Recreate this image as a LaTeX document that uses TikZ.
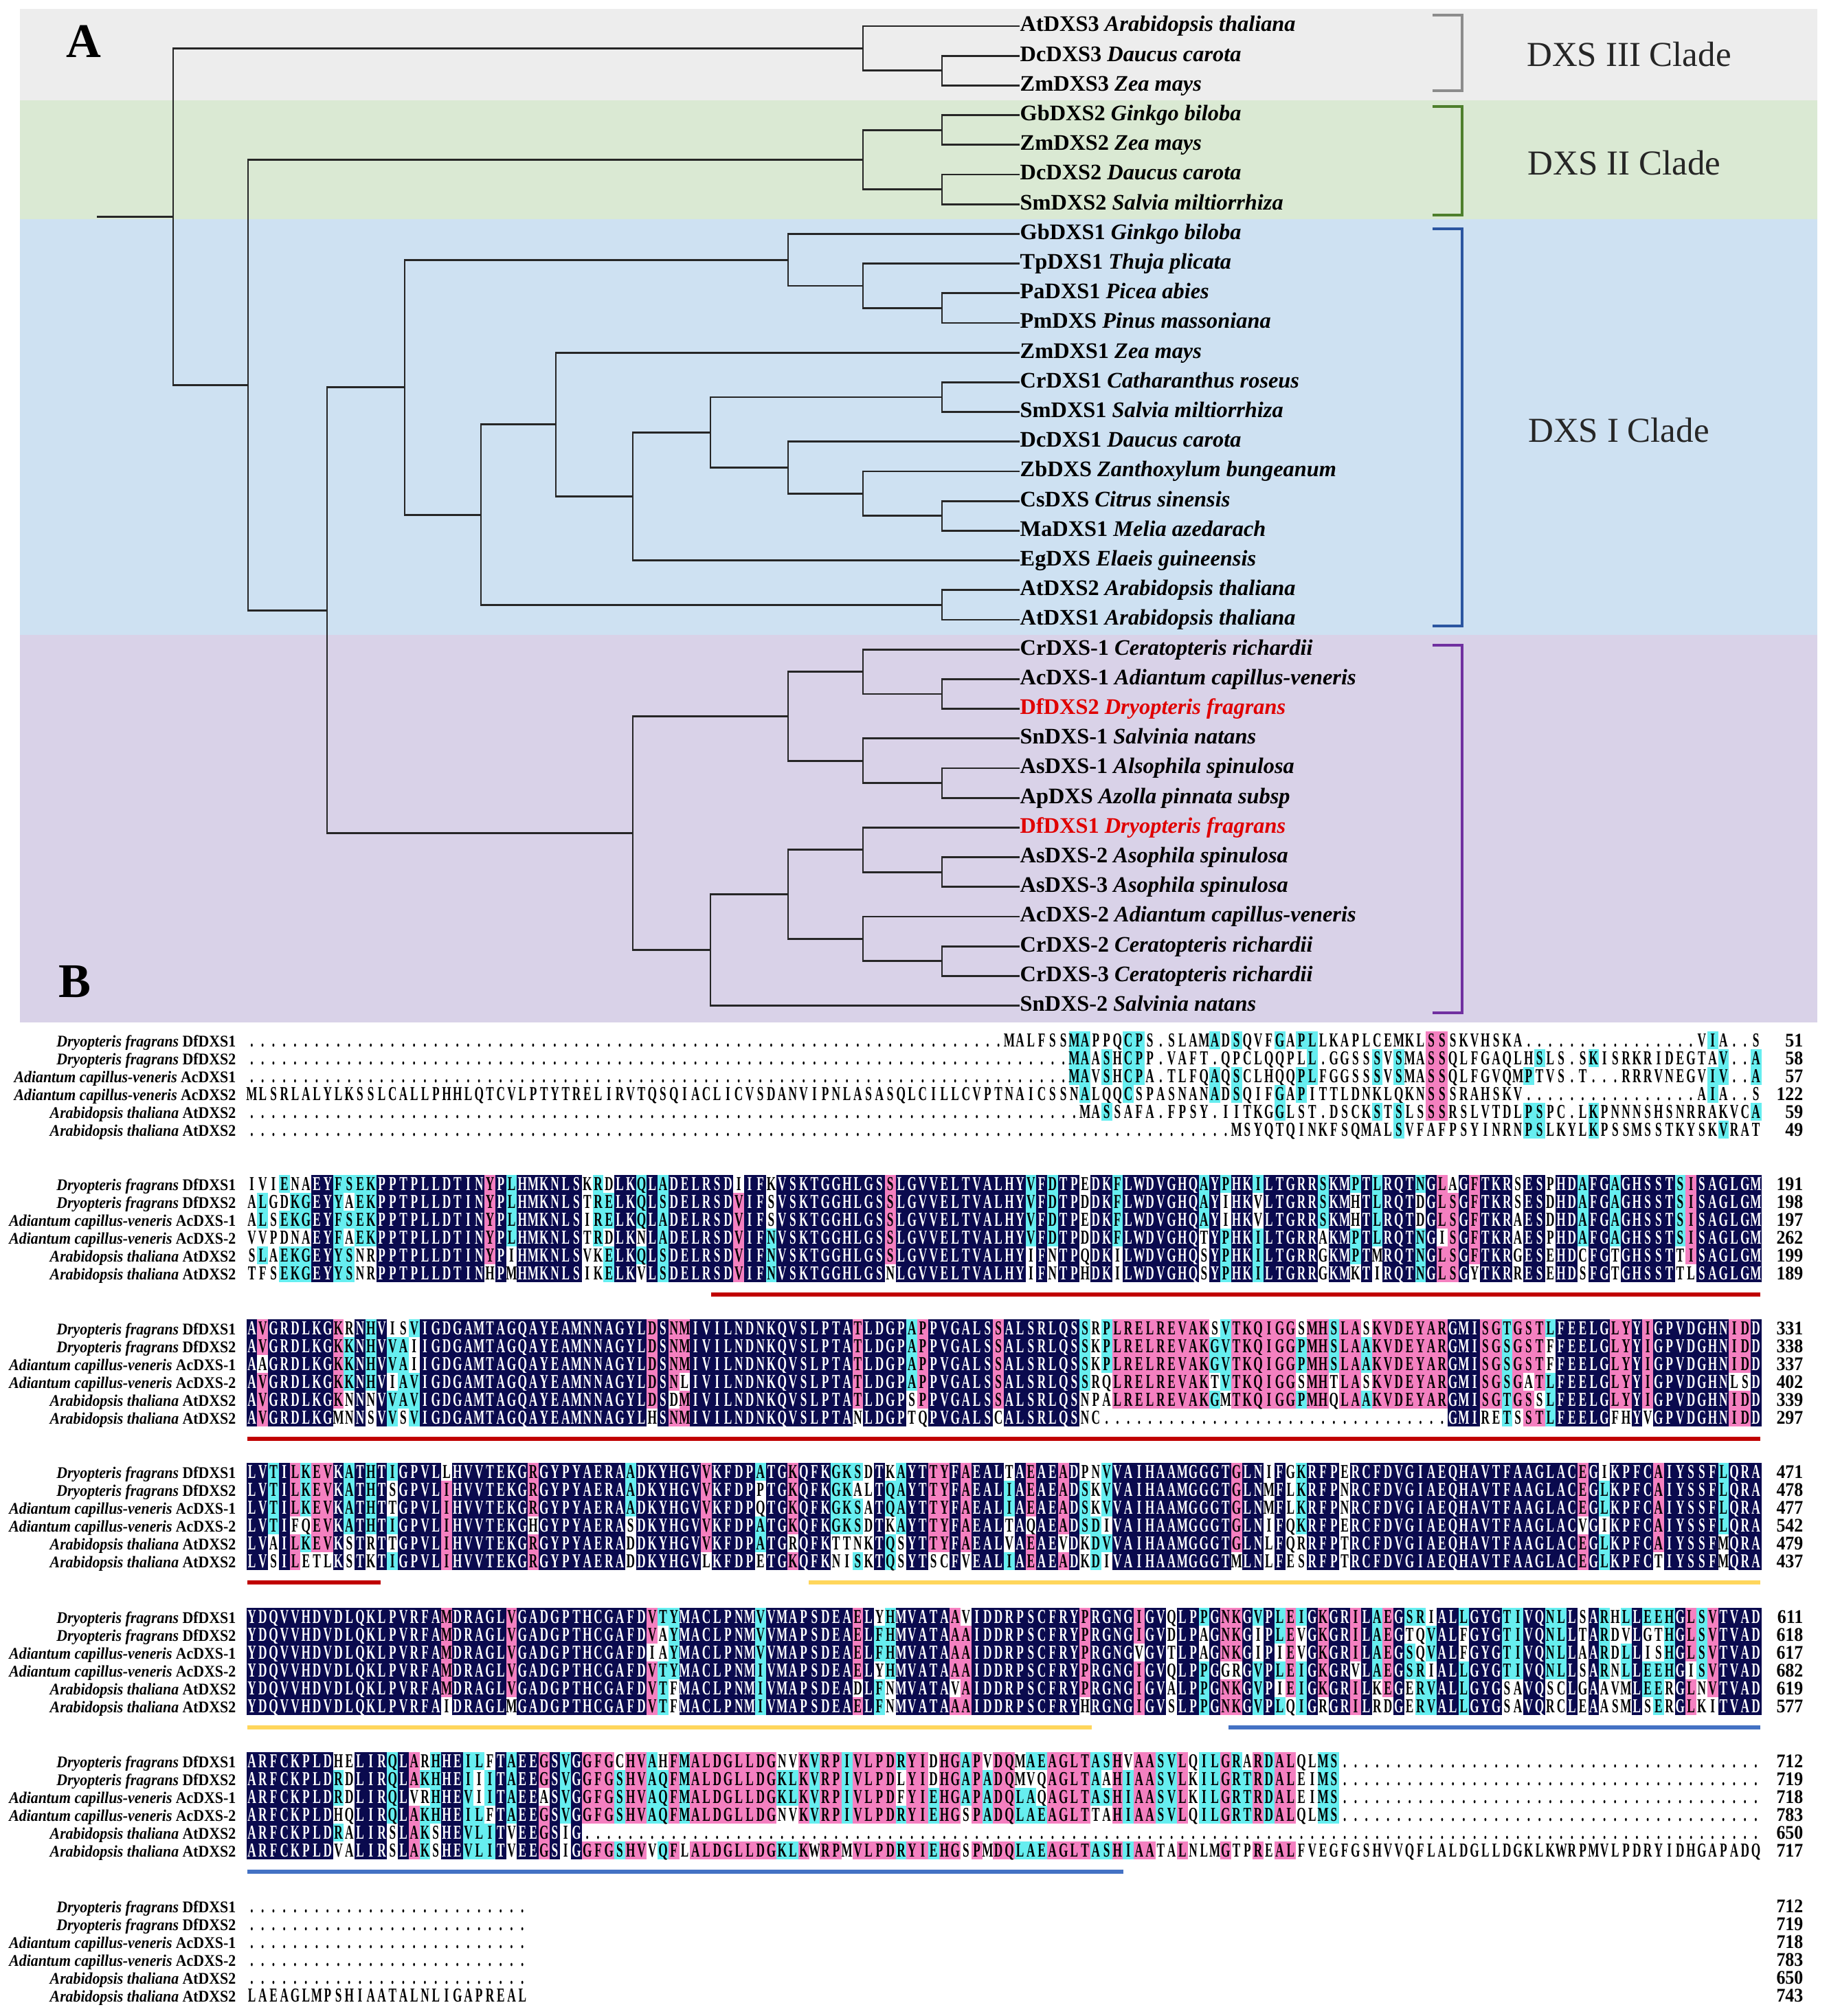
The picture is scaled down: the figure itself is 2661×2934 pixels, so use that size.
\documentclass[tikz,border=0pt]{standalone}
\usepackage{fontspec}
\setmainfont{Liberation Serif}
\newfontfamily\alnfont[FakeStretch=0.6]{Liberation Serif}
\newfontfamily\labfont[FakeStretch=0.92]{Liberation Serif}
\usetikzlibrary{calc}

\definecolor{bandgray}{HTML}{EDEDED}
\definecolor{bandgreen}{HTML}{DAE9D3}
\definecolor{bandblue}{HTML}{CEE1F2}
\definecolor{bandpurple}{HTML}{D9D2E8}
\definecolor{brgray}{HTML}{8C8C8C}
\definecolor{brgreen}{HTML}{4E7F2C}
\definecolor{brblue}{HTML}{2B55A0}
\definecolor{brpurple}{HTML}{7030A0}
\definecolor{dfred}{HTML}{E00000}
\definecolor{alnnavy}{HTML}{0A0A4E}
\definecolor{alnpink}{HTML}{F480C0}
\definecolor{alncyan}{HTML}{66EEF0}
\definecolor{motifred}{HTML}{C00000}
\definecolor{motifyellow}{HTML}{FFD65C}
\definecolor{motifblue}{HTML}{4472C4}

% alignment rows: one cell per residue, shaded by how many rows share it
\ExplSyntaxOn
\intarray_new:Nn \g__aln_chars_intarray { 1200 }
\int_new:N \g__aln_len_int
\int_new:N \l__aln_ch_int
\int_new:N \l__aln_cnt_int
\int_new:N \l__aln_pos_int
\str_new:N \l__aln_row_str
\dim_new:N \l__aln_w_dim
\dim_set:Nn \l__aln_w_dim { 0.1574cm }
\cs_new_protected:Npn \__aln_store:nn #1#2
  {
    \str_set:Nx \l__aln_row_str {#2}
    \int_zero:N \l__aln_pos_int
    \str_map_inline:Nn \l__aln_row_str
      {
        \int_incr:N \l__aln_pos_int
        \intarray_gset:Nnn \g__aln_chars_intarray
          { (#1 - 1) * 200 + \l__aln_pos_int } { `##1 }
      }
    \int_gset_eq:NN \g__aln_len_int \l__aln_pos_int
  }
\cs_new_protected:Npn \__aln_bg:n #1
  {
    \hbox_overlap_right:n
      { \color{#1} \rule [ -0.04cm ] { \l__aln_w_dim } { 0.26cm } }
  }
\cs_new_protected:Npn \__aln_cell:nn #1#2
  {
    \int_set:Nn \l__aln_ch_int
      { \intarray_item:Nn \g__aln_chars_intarray { (#1 - 1) * 200 + #2 } }
    \int_zero:N \l__aln_cnt_int
    \int_compare:nNnF \l__aln_ch_int = { 46 }
      {
        \int_step_inline:nn { 6 }
          {
            \int_compare:nNnT
              { \intarray_item:Nn \g__aln_chars_intarray { (##1 - 1) * 200 + #2 } }
              = \l__aln_ch_int
              { \int_incr:N \l__aln_cnt_int }
          }
      }
    \group_begin:
      \int_case:nnF \l__aln_cnt_int
        {
          { 6 } { \__aln_bg:n { alnnavy } \color{white} }
          { 5 } { \__aln_bg:n { alnpink } }
          { 4 } { \__aln_bg:n { alncyan } }
          { 3 } { \__aln_bg:n { alncyan } }
        }
        { }
      \hbox_to_wd:nn { \l__aln_w_dim } { \hss \char \l__aln_ch_int \hss }
    \group_end:
  }
\cs_new_protected:Npn \__aln_row:n #1
  {
    \hbox:n
      { \int_step_inline:nn { \g__aln_len_int } { \__aln_cell:nn {#1} {##1} } }
  }
\NewDocumentCommand \alnstore { m m } { \__aln_store:nn {#1} {#2} }
\NewDocumentCommand \alnrow { m } { \__aln_row:n {#1} }
\cs_new:Npn \seqgap #1 { \prg_replicate:nn {#1} {.} }
\ExplSyntaxOff

\tikzset{
  branch/.style={line width=0.8pt, black!85},
  leaf/.style={anchor=west, inner sep=0pt, text height=6.5pt, text depth=2pt,
    font=\bfseries\fontsize{9.2}{11}\selectfont},
  bracket/.style={line width=1.4pt},
  cladetext/.style={font=\fontsize{14.5}{17}\selectfont, black!85},
  panel/.style={font=\bfseries\fontsize{20}{24}\selectfont},
  seqrow/.style={anchor=base west, inner sep=0pt, font=\alnfont\bfseries\fontsize{8.2}{9}\selectfont},
  seqlab/.style={anchor=base east, inner sep=0pt, font=\labfont\bfseries\fontsize{6.75}{8}\selectfont},
  seqnum/.style={anchor=base east, inner sep=0pt, font=\labfont\bfseries\fontsize{8}{9}\selectfont},
  motif/.style={line width=1.5pt}
}

\newcommand{\seqblock}[8]{% #1 block, #2 baseline of first row, #3-#8 rows
  \alnstore{1}{#3}\alnstore{2}{#4}\alnstore{3}{#5}%
  \alnstore{4}{#6}\alnstore{5}{#7}\alnstore{6}{#8}%
  \foreach \r in {1,...,6}
    \node[seqrow] (seq#1-\r) at (358,{#2+26*(\r-1)}) {\alnrow{\r}};%
}

\begin{document}
\begin{tikzpicture}[x=0.01cm,y=-0.01cm]
  \useasboundingbox (0,0) rectangle (2661,2934);

  % clade bands
  \fill[bandgray] (29,13) rectangle (2645,146);
  \fill[bandgreen] (29,146) rectangle (2645,319);
  \fill[bandblue] (29,319) rectangle (2645,924);
  \fill[bandpurple] (29,924) rectangle (2645,1488);

  \node[panel] (pa) at (122,60) {A};
  \node[panel] (pb) at (109,1429) {B};

  % leaves
  \foreach \nm/\txt [count=\k from 0] in {
      atdxs3/{AtDXS3 \textit{Arabidopsis thaliana}},
      dcdxs3/{DcDXS3 \textit{Daucus carota}},
      zmdxs3/{ZmDXS3 \textit{Zea mays}},
      gbdxs2/{GbDXS2 \textit{Ginkgo biloba}},
      zmdxs2/{ZmDXS2 \textit{Zea mays}},
      dcdxs2/{DcDXS2 \textit{Daucus carota}},
      smdxs2/{SmDXS2 \textit{Salvia miltiorrhiza}},
      gbdxs1/{GbDXS1 \textit{Ginkgo biloba}},
      tpdxs1/{TpDXS1 \textit{Thuja plicata}},
      padxs1/{PaDXS1 \textit{Picea abies}},
      pmdxs/{PmDXS \textit{Pinus massoniana}},
      zmdxs1/{ZmDXS1 \textit{Zea mays}},
      crdxs1/{CrDXS1 \textit{Catharanthus roseus}},
      smdxs1/{SmDXS1 \textit{Salvia miltiorrhiza}},
      dcdxs1/{DcDXS1 \textit{Daucus carota}},
      zbdxs/{ZbDXS \textit{Zanthoxylum bungeanum}},
      csdxs/{CsDXS \textit{Citrus sinensis}},
      madxs1/{MaDXS1 \textit{Melia azedarach}},
      egdxs/{EgDXS \textit{Elaeis guineensis}},
      atdxs2/{AtDXS2 \textit{Arabidopsis thaliana}},
      atdxs1/{AtDXS1 \textit{Arabidopsis thaliana}},
      crdxsa/{CrDXS-1 \textit{Ceratopteris richardii}},
      acdxsa/{AcDXS-1 \textit{Adiantum capillus-veneris}},
      dfdxs2/{\color{dfred}DfDXS2 \textit{Dryopteris fragrans}},
      sndxsa/{SnDXS-1 \textit{Salvinia natans}},
      asdxsa/{AsDXS-1 \textit{Alsophila spinulosa}},
      apdxs/{ApDXS \textit{Azolla pinnata subsp}},
      dfdxs1/{\color{dfred}DfDXS1 \textit{Dryopteris fragrans}},
      asdxsb/{AsDXS-2 \textit{Asophila spinulosa}},
      asdxsc/{AsDXS-3 \textit{Asophila spinulosa}},
      acdxsb/{AcDXS-2 \textit{Adiantum capillus-veneris}},
      crdxsb/{CrDXS-2 \textit{Ceratopteris richardii}},
      crdxsc/{CrDXS-3 \textit{Ceratopteris richardii}},
      sndxsb/{SnDXS-2 \textit{Salvinia natans}}}
    \node[leaf] (\nm) at (1484,{38+43.2*\k}) {\txt};

  % inner nodes of the tree
  \coordinate (rootin) at (141,315.3);
  \coordinate (root) at (252,315.3);
  \coordinate (c3a) at (1256,70.4);
  \coordinate (c3b) at (1371,102.8);
  \coordinate (b0) at (361,560.25);
  \coordinate (c2a) at (1256,232.4);
  \coordinate (c2b) at (1371,189.2);
  \coordinate (c2c) at (1371,275.6);
  \coordinate (b1) at (476,888.1);
  \coordinate (c1) at (589,563.7);
  \coordinate (gy1) at (1147,378.2);
  \coordinate (gy2) at (1256,416);
  \coordinate (gy3) at (1371,448.4);
  \coordinate (an1) at (700,749.1);
  \coordinate (an2) at (809,617.8);
  \coordinate (an3) at (921,722.45);
  \coordinate (an4) at (1034,629.3);
  \coordinate (an5) at (1147,680.6);
  \coordinate (an6) at (1256,718.4);
  \coordinate (an7) at (1371,578);
  \coordinate (an8) at (1371,750.8);
  \coordinate (an9) at (1371,880.4);
  \coordinate (fe) at (921,1212.5);
  \coordinate (fe1) at (1147,1042.4);
  \coordinate (fe2) at (1256,977.6);
  \coordinate (fe3) at (1371,1010);
  \coordinate (fe4) at (1256,1107.2);
  \coordinate (fe5) at (1371,1139.6);
  \coordinate (fe6) at (1034,1382.6);
  \coordinate (fe7) at (1147,1301.6);
  \coordinate (fe8) at (1256,1236.8);
  \coordinate (fe9) at (1371,1269.2);
  \coordinate (fe10) at (1256,1366.4);
  \coordinate (fe11) at (1371,1398.8);

  \draw[branch] (rootin) -- (root);
  \foreach \p/\c in {root/c3a, root/b0, c3a/c3b, b0/c2a, b0/b1, c2a/c2b, c2a/c2c,
      b1/c1, b1/fe, c1/gy1, c1/an1, gy1/gy2, gy2/gy3, an1/an2, an1/an9,
      an2/an3, an3/an4, an4/an7, an4/an5, an5/an6, an6/an8,
      fe/fe1, fe/fe6, fe1/fe2, fe1/fe4, fe2/fe3, fe4/fe5, fe6/fe7,
      fe7/fe8, fe7/fe10, fe8/fe9, fe10/fe11}
    \draw[branch] (\p) |- (\c);
  \foreach \p/\c in {c3a/atdxs3, c3b/dcdxs3, c3b/zmdxs3, c2b/gbdxs2, c2b/zmdxs2,
      c2c/dcdxs2, c2c/smdxs2, gy1/gbdxs1, gy2/tpdxs1, gy3/padxs1, gy3/pmdxs,
      an2/zmdxs1, an7/crdxs1, an7/smdxs1, an5/dcdxs1, an6/zbdxs, an8/csdxs,
      an8/madxs1, an3/egdxs, an9/atdxs2, an9/atdxs1,
      fe2/crdxsa, fe3/acdxsa, fe3/dfdxs2, fe4/sndxsa, fe5/asdxsa, fe5/apdxs,
      fe8/dfdxs1, fe9/asdxsb, fe9/asdxsc, fe10/acdxsb, fe11/crdxsb, fe11/crdxsc,
      fe6/sndxsb}
    \draw[branch] (\p) |- (\c.west);

  % clade brackets
  \draw[bracket, brgray] (2085,22) -- (2128,22) -- (2128,132) -- (2085,132);
  \draw[bracket, brgreen] (2085,155) -- (2128,155) -- (2128,313) -- (2085,313);
  \draw[bracket, brblue] (2085,333) -- (2128,333) -- (2128,911) -- (2085,911);
  \draw[bracket, brpurple] (2085,939) -- (2128,939) -- (2128,1474) -- (2085,1474);
  \node[cladetext] (lab3) at (2371,79) {DXS III Clade};
  \node[cladetext] (lab2) at (2364,237) {DXS II Clade};
  \node[cladetext] (lab1) at (2356,626) {DXS I Clade};

  % alignment
  \seqblock{1}{1523}
    {\seqgap{70}MALFSSMAPPQCPS.SLAMADSQVFGAPLLKAPLCEMKLSSSKVHSKA\seqgap{16}VIA..S}
    {\seqgap{76}MAASHCPP.VAFT.QPCLQQPLL.GGSSSVSMASSQLFGAQLHSLS.SKISRKRIDEGTAV..A}
    {\seqgap{76}MAVSHCPA.TLFQAQSCLHQQPLFGGSSSVSMASSQLFGVQMPTVS.T...RRRVNEGVIV..A}
    {MLSRLALYLKSSLCALLPHHLQTCVLPTYTRELIRVTQSQIACLICVSDANVIPNLASASQLCILLCVPTNAICSSNALQQCSPASNANADSQIFGAPITTLDNKLQKNSSSRAHSKV\seqgap{16}AIA..S}
    {\seqgap{77}MASSAFA.FPSY.IITKGGLST.DSCKSTSLSSSRSLVTDLPSPC.LKPNNNSHSNRRAKVCA}
    {\seqgap{91}MSYQTQINKFSQMALSVFAFPSYINRNPSLKYLKPSSMSSTKYSKVRAT}
  \seqblock{2}{1732}
    {IVIENAEYFSEKPPTPLLDTINYPLHMKNLSKRDLKQLADELRSDIIFKVSKTGGHLGSSLGVVELTVALHYVFDTPEDKFLWDVGHQAYPHKILTGRRSKMPTLRQTNGLAGFTKRSESPHDAFGAGHSSTSISAGLGM}
    {ALGDKGEYYAEKPPTPLLDTINYPLHMKNLSTRELKQLSDELRSDVIFSVSKTGGHLGSSLGVVELTVALHYVFDTPDDKFLWDVGHQAYIHKVLTGRRSKMHTLRQTDGLSGFTKRSESDHDAFGAGHSSTSISAGLGM}
    {ALSEKGEYFSEKPPTPLLDTINYPLHMKNLSIRELKQLADELRSDVIFSVSKTGGHLGSSLGVVELTVALHYVFDTPEDKFLWDVGHQAYIHKVLTGRRSKMHTLRQTDGLSGFTKRAESDHDAFGAGHSSTSISAGLGM}
    {VVPDNAEYFAEKPPTPLLDTINYPLHMKNLSTRDLKNLADELRSDVIFNVSKTGGHLGSSLGVVELTVALHYVFDTPDDKFLWDVGHQTYPHKILTGRRAKMPTLRQTNGISGFTKRAESPHDAFGAGHSSTSISAGLGM}
    {SLAEKGEYYSNRPPTPLLDTINYPIHMKNLSVKELKQLSDELRSDVIFNVSKTGGHLGSSLGVVELTVALHYIFNTPQDKILWDVGHQSYPHKILTGRRGKMPTMRQTNGLSGFTKRGESEHDCFGTGHSSTTISAGLGM}
    {TFSEKGEYYSNRPPTPLLDTINHPMHMKNLSIKELKVLSDELRSDVIFNVSKTGGHLGSNLGVVELTVALHYIFNTPHDKILWDVGHQSYPHKILTGRRGKMKTIRQTNGLSGYTKRRESEHDSFGTGHSSTTLSAGLGM}
  \seqblock{3}{1942}
    {AVGRDLKGKRNHVISVIGDGAMTAGQAYEAMNNAGYLDSNMIVILNDNKQVSLPTATLDGPAPPVGALSSALSRLQSSRPLRELREVAKSVTKQIGGSMHSLASKVDEYARGMISGTGSTLFEELGLYYIGPVDGHNIDD}
    {AVGRDLKGKKNHVVAIIGDGAMTAGQAYEAMNNAGYLDSNMIVILNDNKQVSLPTATLDGPAPPVGALSSALSRLQSSKPLRELREVAKGVTKQIGGPMHSLAAKVDEYARGMISGSGSTFFEELGLYYIGPVDGHNIDD}
    {AAGRDLKGKKNHVVAIIGDGAMTAGQAYEAMNNAGYLDSNMIVILNDNKQVSLPTATLDGPAPPVGALSSALSRLQSSKPLRELREVAKGVTKQIGGPMHSLAAKVDEYARGMISGSGSTFFEELGLYYIGPVDGHNIDD}
    {AVGRDLKGKKNHVIAVIGDGAMTAGQAYEAMNNAGYLDSNLIVILNDNKQVSLPTATLDGPAPPVGALSSALSRLQSSRQLRELREVAKTVTKQIGGSMHTLASKVDEYARGMISGSGATLFEELGLYYIGPVDGHNLSD}
    {AVGRDLKGKNNNVVAVIGDGAMTAGQAYEAMNNAGYLDSDMIVILNDNKQVSLPTATLDGPSPPVGALSSALSRLQSNPALRELREVAKGMTKQIGGPMHQLAAKVDEYARGMISGTGSSLFEELGLYYIGPVDGHNIDD}
    {AVGRDLKGMNNSVVSVIGDGAMTAGQAYEAMNNAGYLHSNMIVILNDNKQVSLPTANLDGPTQPVGALSCALSRLQSNC\seqgap{32}GMIRETSSTLFEELGFHYVGPVDGHNIDD}
  \seqblock{4}{2151}
    {LVTILKEVKATHTIGPVLLHVVTEKGRGYPYAERAADKYHGVVKFDPATGKQFKGKSDTKAYTTYFAEALTAEAEADPNVVAIHAAMGGGTGLNIFGKRFPERCFDVGIAEQHAVTFAAGLACEGIKPFCAIYSSFLQRA}
    {LVTILKEVKATHTSGPVLIHVVTEKGRGYPYAERAADKYHGVVKFDPPTGKQFKGKALTQAYTTYFAEALIAEAEADSKVVAIHAAMGGGTGLNMFLKRFPNRCFDVGIAEQHAVTFAAGLACEGLKPFCAIYSSFLQRA}
    {LVTILKEVKATHTTGPVLIHVVTEKGRGYPYAERAADKYHGVVKFDPQTGKQFKGKSATQAYTTYFAEALIAEAEADSKVVAIHAAMGGGTGLNMFLKRFPNRCFDVGIAEQHAVTFAAGLACEGLKPFCAIYSSFLQRA}
    {LVTIFQEVKATHTIGPVLIHVVTEKGHGYPYAERASDKYHGVVKFDPATGKQFKGKSDTKAYTTYFAEALTAQAEADSDIVAIHAAMGGGTGLNIFQKRFPERCFDVGIAEQHAVTFAAGLACVGIKPFCAIYSSFLQRA}
    {LVAILKEVKSTRTTGPVLIHVVTEKGRGYPYAERADDKYHGVVKFDPATGRQFKTTNKTQSYTTYFAEALVAEAEVDKDVVAIHAAMGGGTGLNLFQRRFPTRCFDVGIAEQHAVTFAAGLACEGLKPFCAIYSSFMQRA}
    {LVSILETLKSTKTIGPVLIHVVTEKGRGYPYAERADDKYHGVLKFDPETGKQFKNISKTQSYTSCFVEALIAEAEADKDIVAIHAAMGGGTMLNLFESRFPTRCFDVGIAEQHAVTFAAGLACEGLKPFCTIYSSFMQRA}
  \seqblock{5}{2362}
    {YDQVVHDVDLQKLPVRFAMDRAGLVGADGPTHCGAFDVTYMACLPNMVVMAPSDEAELYHMVATAAVIDDRPSCFRYPRGNGIGVQLPPGNKGVPLEIGKGRILAEGSRIALLGYGTIVQNLLSARHLLEEHGLSVTVAD}
    {YDQVVHDVDLQKLPVRFAMDRAGLVGADGPTHCGAFDVAYMACLPNMVVMAPSDEAELFHMVATAAAIDDRPSCFRYPRGNGIGVDLPAGNKGIPLEVGKGRILAEGTQVALFGYGTIVQNLLTARDVLGTHGLSVTVAD}
    {YDQVVHDVDLQKLPVRFAMDRAGLVGADGPTHCGAFDIAYMACLPNMVVMAPSDEAELFHMVATAAAIDDRPSCFRYPRGNGVGVTLPAGNKGIPIEVGKGRILAEGSQVALFGYGTIVQNLLAARDLLISHGLSVTVAD}
    {YDQVVHDVDLQKLPVRFAMDRAGLVGADGPTHCGAFDVTYMACLPNMIVMAPSDEAELYHMVATAAAIDDRPSCFRYPRGNGIGVQLPPGGRGVPLEIGKGRVLAEGSRIALLGYGTIVQNLLSARNLLEEHGISVTVAD}
    {YDQVVHDVDLQKLPVRFAMDRAGLVGADGPTHCGAFDVTFMACLPNMIVMAPSDEADLFNMVATAVAIDDRPSCFRYPRGNGIGVALPPGNKGVPIEIGKGRILKEGERVALLGYGSAVQSCLGAAVMLEERGLNVTVAD}
    {YDQVVHDVDLQKLPVRFAIDRAGLMGADGPTHCGAFDVTFMACLPNMIVMAPSDEAELFNMVATAAAIDDRPSCFRYHRGNGIGVSLPPGNKGVPLQIGRGRILRDGERVALLGYGSAVQRCLEAASMLSERGLKITVAD}
  \seqblock{6}{2572}
    {ARFCKPLDHELIRQLARHHEILFTAEEGSVGGFGCHVAHFMALDGLLDGNVKVRPIVLPDRYIDHGAPVDQMAEAGLTASHVAASVLQILGRARDALQLMS\seqgap{39}}
    {ARFCKPLDRDLIRQLAKHHEIIITAEEGSVGGFGSHVAQFMALDGLLDGKLKVRPIVLPDLYIDHGAPADQMVQAGLTAAHIAASVLKILGRTRDALEIMS\seqgap{39}}
    {ARFCKPLDRDLIRQLVRHHEVIITAEEASVGGFGSHVAQFMALDGLLDGKLKVRPIVLPDFYIEHGAPADQLAQAGLTASHIAASVLKILGRTRDALEIMS\seqgap{39}}
    {ARFCKPLDHQLIRQLAKHHEILFTAEEGSVGGFGSHVAQFMALDGLLDGNVKVRPIVLPDRYIEHGSPADQLAEAGLTTAHIAASVLQILGRTRDALQLMS\seqgap{39}}
    {ARFCKPLDRALIRSLAKSHEVLITVEEGSIG\seqgap{109}}
    {ARFCKPLDVALIRSLAKSHEVLITVEEGSIGGFGSHVVQFLALDGLLDGKLKWRPMVLPDRYIEHGSPMDQLAEAGLTASHIAATALNLMGTPREALFVEGFGSHVVQFLALDGLLDGKLKWRPMVLPDRYIDHGAPADQ}
  \seqblock{7}{2783}
    {\seqgap{26}}{\seqgap{26}}{\seqgap{26}}{\seqgap{26}}{\seqgap{26}}
    {LAEAGLMPSHIAATALNLIGAPREAL}

  % row names
  \foreach \lab [count=\r] in {{\textit{Dryopteris fragrans} DfDXS1},
      {\textit{Dryopteris fragrans} DfDXS2}, {\textit{Adiantum capillus-veneris} AcDXS1},
      {\textit{Adiantum capillus-veneris} AcDXS2}, {\textit{Arabidopsis thaliana} AtDXS2},
      {\textit{Arabidopsis thaliana} AtDXS2}}
    \node[seqlab] (lab1-\r) at (344,{1523+26*(\r-1)}) {\lab};
  \foreach \blk/\y in {2/1732,3/1942,4/2151,5/2362,6/2572,7/2783}
    \foreach \lab [count=\r] in {{\textit{Dryopteris fragrans} DfDXS1},
        {\textit{Dryopteris fragrans} DfDXS2}, {\textit{Adiantum capillus-veneris} AcDXS-1},
        {\textit{Adiantum capillus-veneris} AcDXS-2}, {\textit{Arabidopsis thaliana} AtDXS2},
        {\textit{Arabidopsis thaliana} AtDXS2}}
      \node[seqlab] (lab\blk-\r) at (344,{\y+26*(\r-1)}) {\lab};

  % residue counts
  \foreach \blk/\y/\nums in {1/1523/{51,58,57,122,59,49}, 2/1732/{191,198,197,262,199,189},
      3/1942/{331,338,337,402,339,297}, 4/2151/{471,478,477,542,479,437},
      5/2362/{611,618,617,682,619,577}, 6/2572/{712,719,718,783,650,717},
      7/2783/{712,719,718,783,650,743}}
    \foreach \n [count=\r] in \nums
      \node[seqnum] (num\blk-\r) at (2625,{\y+26*(\r-1)}) {\n};

  % motif bars
  \draw[motif, motifred] (1035,1884) -- (2562,1884);
  \draw[motif, motifred] (360,2094) -- (2562,2094);
  \draw[motif, motifred] (360,2303) -- (554,2303);
  \draw[motif, motifyellow] (1177,2303) -- (2562,2303);
  \draw[motif, motifyellow] (360,2514) -- (1589,2514);
  \draw[motif, motifblue] (1788,2514) -- (2562,2514);
  \draw[motif, motifblue] (360,2724) -- (1635,2724);
\end{tikzpicture}
\end{document}
